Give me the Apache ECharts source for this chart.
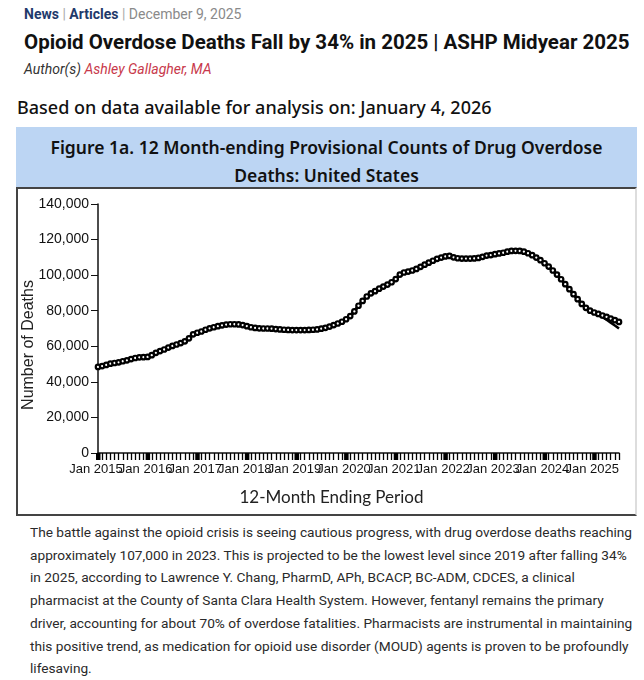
<!DOCTYPE html>
<html>
<head>
<meta charset="utf-8">
<script src="https://cdn.jsdelivr.net/npm/echarts@6/dist/echarts.min.js"></script>
<style>
  body { margin: 0; background: #fff; width: 644px; height: 680px; position: relative; overflow: hidden; font-family: Roboto, "Liberation Sans", sans-serif; }
  .abs { position: absolute; white-space: nowrap; }
  #meta { left: 24px; top: 6px; font-size: 14px; color: #8a8a8a; }
  #meta b { color: #1f3a6b; font-weight: 700; }
  #meta .sep { color: #aaa; }
  #headline { left: 24px; top: 30px; font-size: 20.5px; font-weight: 700; color: #111; }
  #author { left: 24px; top: 61px; font-size: 14px; font-style: italic; color: #333; }
  #author span { color: #c8394b; }
  #based { left: 17px; top: 95px; font-size: 18px; color: #111; font-family: "Noto Sans", sans-serif; font-weight: 500; }
  #figHead { left: 16px; top: 127px; width: 621px; height: 61px; background: #bcd5f3; text-align: center;
             font-family: "Noto Sans", sans-serif; font-weight: 600; font-size: 17.5px; line-height: 28px; color: #111; padding-top: 6px; box-sizing: border-box; }
  #figBox { position: absolute; left: 16px; top: 187px; width: 621px; height: 329px; border: 2px solid #444; border-right-color: #ddd; box-sizing: border-box; }
  #chart { position: absolute; left: 0; top: 188px; width: 644px; height: 328px; }
  #para { left: 30px; top: 521px; font-size: 13.7px; line-height: 22.7px; color: #2a2a2a; }
</style>
</head>
<body>
<div id="meta" class="abs"><b>News</b> <span class="sep">|</span> <b>Articles</b> <span class="sep">|</span> December 9, 2025</div>
<div id="headline" class="abs">Opioid Overdose Deaths Fall by 34% in 2025 | ASHP Midyear 2025</div>
<div id="author" class="abs">Author(s) <span>Ashley Gallagher, MA</span></div>
<div id="based" class="abs">Based on data available for analysis on: January 4, 2026</div>
<div id="figHead" class="abs">Figure 1a. 12 Month-ending Provisional Counts of Drug Overdose<br>Deaths: United States</div>
<div id="figBox"></div>
<div id="chart"></div>
<div id="para" class="abs">The battle against the opioid crisis is seeing cautious progress, with drug overdose deaths reaching<br>approximately 107,000 in 2023. This is projected to be the lowest level since 2019 after falling 34%<br>in 2025, according to Lawrence Y. Chang, PharmD, APh, BCACP, BC-ADM, CDCES, a clinical<br>pharmacist at the County of Santa Clara Health System. However, fentanyl remains the primary<br>driver, accounting for about 70% of overdose fatalities. Pharmacists are instrumental in maintaining<br>this positive trend, as medication for opioid use disorder (MOUD) agents is proven to be profoundly<br>lifesaving.</div>

<script>
// 12 month-ending counts, Jan 2015 .. Jul 2025
const predicted2015 = [48400, 48900, 49500, 50200, 50600, 51000, 51600, 52100, 52800, 53400, 53800, 53900];
const predicted2016 = [54000, 55000, 56300, 57300, 58200, 59300, 60200, 61000, 61800, 62800, 64500, 66700];
const predicted2017 = [67600, 68300, 69300, 70100, 70700, 71300, 71800, 72200, 72400, 72400, 72300, 71900];
const predicted2018 = [71300, 70700, 70300, 70100, 70000, 70000, 69900, 69700, 69500, 69300, 69200, 69100];
const predicted2019 = [69100, 69100, 69100, 69200, 69300, 69500, 69900, 70400, 71100, 71900, 72800, 73800];
const predicted2020 = [75200, 77000, 79600, 82800, 85500, 88000, 89800, 91000, 92400, 93600, 94700, 96000];
const predicted2021 = [97800, 100300, 101500, 102000, 102600, 103500, 104700, 105900, 107000, 108100, 109200, 109900];
const predicted2022 = [110500, 110800, 110000, 109500, 109300, 109300, 109300, 109400, 109700, 110300, 111000, 111300];
const predicted2023 = [111800, 112200, 112600, 113200, 113600, 113700, 113600, 113200, 112300, 111200, 109900, 108400];
const predicted2024 = [106700, 104800, 102600, 100300, 97700, 94900, 92100, 89300, 86500, 83800, 81600, 80000];
const predicted2025 = [79000, 78200, 77300, 76500, 75600, 74700, 73700];

// reported counts only part from predicted in the last months
const reportedTail = [78800, 77700, 76300, 74900, 73300, 71700, 70000];

const monthNames = ['Jan', 'Feb', 'Mar', 'Apr', 'May', 'Jun', 'Jul', 'Aug', 'Sep', 'Oct', 'Nov', 'Dec'];
const firstYear = 2015;

const predicted = [].concat(predicted2015, predicted2016, predicted2017, predicted2018, predicted2019,
  predicted2020, predicted2021, predicted2022, predicted2023, predicted2024, predicted2025);
const reported = predicted.slice(0, predicted.length - reportedTail.length).concat(reportedTail);

const categories = predicted.map((v, i) => monthNames[i % 12] + ' ' + (firstYear + Math.floor(i / 12)));
// one label + thick tick per January
const janIndexes = categories.map((c, i) => i).filter(i => i % 12 === 0);

const chart = echarts.init(document.getElementById('chart'));

const axisColor = '#111';

chart.setOption({
  animation: false,
  grid: { left: 98, top: 16, right: 25, bottom: 63 },
  graphic: [{
    type: 'text',
    x: 29,
    y: 157,
    rotation: Math.PI / 2,
    style: {
      text: 'Number of Deaths',
      fontFamily: 'Liberation Sans',
      fontSize: 16,
      fill: '#222',
      align: 'center',
      verticalAlign: 'middle'
    }
  }],
  xAxis: {
    type: 'category',
    data: categories,
    boundaryGap: false,
    name: '12-Month Ending Period',
    nameLocation: 'middle',
    nameGap: 36,
    nameTextStyle: { fontFamily: 'Lato', fontSize: 17, color: '#222', padding: [0, 54, 0, 0] },
    axisLine: { lineStyle: { color: axisColor, width: 1.5 } },
    axisTick: { interval: 0, length: 7, lineStyle: { color: '#000', width: 1.3 } },
    axisLabel: { show: false },
    splitLine: { show: false }
  },
  yAxis: {
    type: 'value',
    min: 0,
    max: 140000,
    interval: 20000,
    axisLine: { show: true, lineStyle: { color: axisColor, width: 1.5 } },
    axisTick: { show: true, length: 7, lineStyle: { color: axisColor } },
    axisLabel: {
      fontFamily: 'Liberation Sans',
      fontSize: 14,
      color: '#111',
      margin: 9,
      formatter: v => v.toLocaleString('en-US')
    },
    splitLine: { show: false }
  },
  series: [{
    name: 'Reported',
    type: 'line',
    data: reported,
    showSymbol: false,
    lineStyle: { color: '#000', width: 2.5 },
    z: 2
  }, {
    name: 'Predicted',
    type: 'line',
    data: predicted,
    symbol: 'circle',
    symbolSize: 4.5,
    showAllSymbol: true,
    itemStyle: { color: '#fff', borderColor: '#000', borderWidth: 2.2 },
    lineStyle: { color: '#000', width: 3 },
    z: 3
  }, {
    // thick January ticks and their "Jan yyyy" labels under the axis line
    name: 'Years',
    type: 'custom',
    data: janIndexes.map(i => [i, 0]),
    silent: true,
    clip: false,
    renderItem: (params, api) => {
      const idx = api.value(0);
      const p = api.coord([idx, 0]);
      return {
        type: 'group',
        children: [{
          type: 'rect',
          shape: { x: p[0] - 2, y: p[1], width: 4.5, height: 7 },
          style: { fill: '#000' }
        }, {
          type: 'text',
          x: p[0] - 2,
          y: p[1] + 10,
          style: {
            text: categories[idx],
            fontFamily: 'Liberation Sans',
            fontSize: 13,
            fill: '#111',
            align: 'center',
            verticalAlign: 'top'
          }
        }]
      };
    },
    z: 4
  }]
});
</script>
</body>
</html>
